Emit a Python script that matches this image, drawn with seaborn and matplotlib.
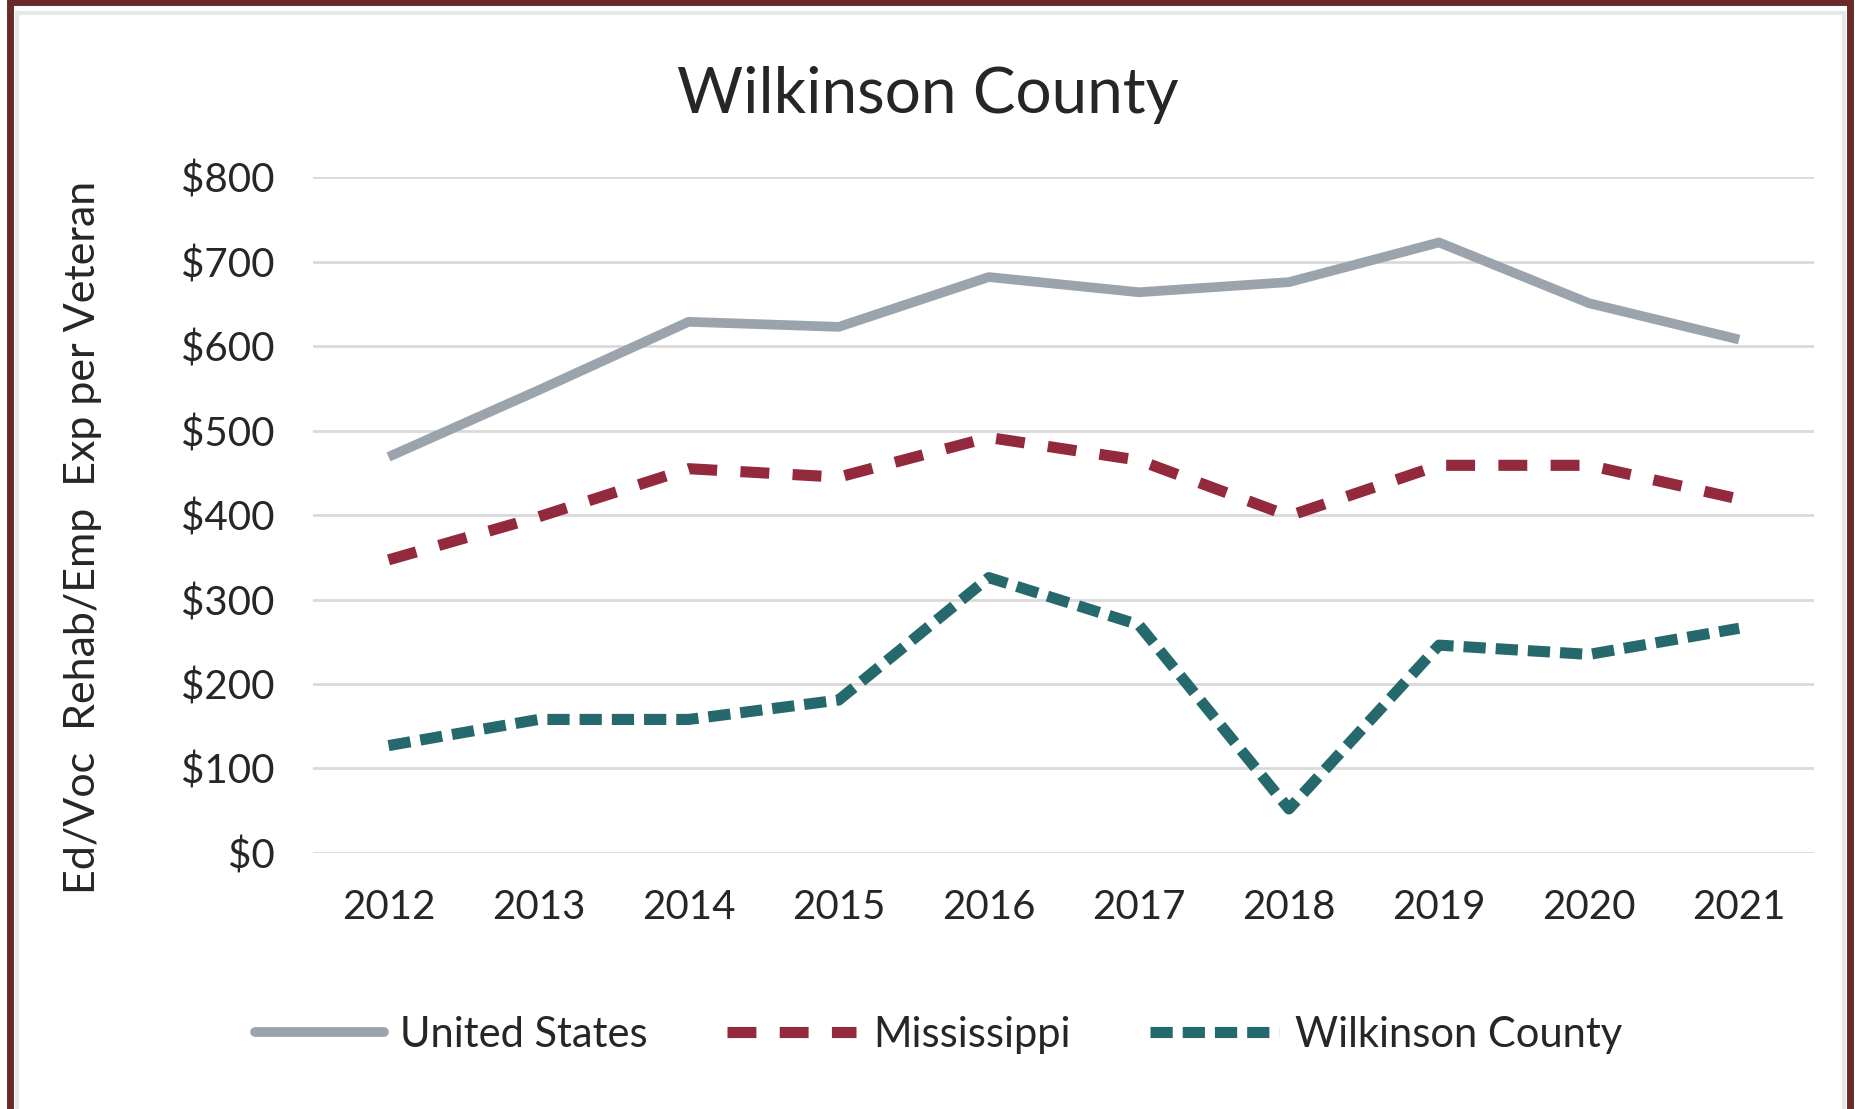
import pandas as pd
import matplotlib.pyplot as plt
from matplotlib.patches import Rectangle
import seaborn as sns

years = [2012, 2013, 2014, 2015, 2016, 2017, 2018, 2019, 2020, 2021]
united_states = [469, 548, 629, 623, 682, 664, 676, 723, 651, 608]
mississippi = [347, 398, 455, 445, 492, 465, 399, 459, 459, 419]
wilkinson = [127, 158, 158, 181, 326, 270, 52, 246, 235, 266]
series_names = ['United States', 'Mississippi', 'Wilkinson County']
y_ticks = [0, 100, 200, 300, 400, 500, 600, 700, 800]

df = pd.DataFrame({'year': years * 3,
                   'value': united_states + mississippi + wilkinson,
                   'series': [s for s in series_names for _ in years]})

sns.set_style('white')
plt.rcParams['font.family'] = ['Lato', 'DejaVu Sans']

colors = {'United States': '#9BA4AD',
          'Mississippi': '#93293C',
          'Wilkinson County': '#25696D'}
dashes = {'United States': '',
          'Mississippi': (2.6, 2.1),
          'Wilkinson County': (2.0, 0.9)}
widths = {'United States': 7, 'Mississippi': 8, 'Wilkinson County': 8}

fig = plt.figure(figsize=(18.55, 11.09), dpi=100)
ax = fig.add_axes([0.169, 0.231, 0.809, 0.609])

sns.lineplot(data=df, x='year', y='value', hue='series', style='series',
             palette=colors, dashes=dashes, ax=ax, legend=False)
for line, name in zip(ax.get_lines(), series_names):
    line.set_linewidth(widths[name])
    line.set_dash_capstyle('butt')
    line.set_solid_capstyle('butt')

ax.set_xlim(2011.5, 2021.5)
ax.set_ylim(0, 800)
ax.set_xticks(years)
ax.set_xticklabels([str(y) for y in years])
ax.set_yticks(y_ticks)
ax.set_yticklabels(['$' + str(v) for v in y_ticks])
ax.grid(axis='y', color='#D9D9D9', linewidth=2)
ax.set_axisbelow(True)
for s in ax.spines.values():
    s.set_visible(False)
ax.tick_params(axis='both', length=0, labelsize=29)
ax.tick_params(axis='y', pad=28)
ax.tick_params(axis='x', pad=26)
ax.set_xlabel('')
ax.set_ylabel('')

fig.text(0.045, 1 - 537 / 1109, 'Ed/Voc  Rehab/Emp  Exp per Veteran',
         rotation=90, ha='center', va='center', fontsize=31)
fig.text(0.5, 1 - 95 / 1109, 'Wilkinson County', ha='center', va='center',
         fontsize=46)

handles = [plt.Line2D([], [], color=colors[n], linewidth=widths[n],
                      dashes=dashes[n] if dashes[n] else (None, None),
                      dash_capstyle='butt')
           for n in series_names]
fig.legend(handles, series_names, loc='center', ncol=3, frameon=False,
           bbox_to_anchor=(0.506, 1 - 1035 / 1109), fontsize=30,
           handlelength=3.1, columnspacing=1.9, handletextpad=0.4)

# frame round the chart
fig.patches.append(Rectangle((0.0055, -0.01), 0.992, 1.008, transform=fig.transFigure,
                             fill=False, edgecolor='#6B2A2A', linewidth=5))
fig.patches.append(Rectangle((0.009, -0.01), 0.985, 0.998, transform=fig.transFigure,
                             fill=False, edgecolor='#E8E8E8', linewidth=3))

fig.savefig('out.png', dpi=100)
